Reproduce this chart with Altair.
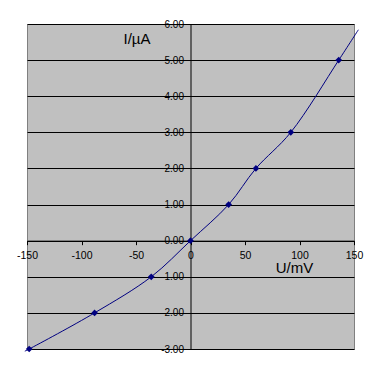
import altair as alt
import pandas as pd

# measured points (markers)
u_mv = [-148, -88, -36, 0, 35, 60, 92, 136]
i_ua = [-3, -2, -1, 0, 1, 2, 3, 5]
# smoothed line runs slightly past the last markers
line_u = [-152] + u_mv + [154]
line_i = [-3.06] + i_ua + [5.84]

y_ticks = [-3, -2, -1, 0, 1, 2, 3, 4, 5, 6]
x_ticks = [-150, -100, -50, 0, 50, 100, 150]

pts = pd.DataFrame({"U": u_mv, "I": i_ua})
ln = pd.DataFrame({"U": line_u, "I": line_i, "o": list(range(len(line_u)))})

FONT = "Liberation Sans"
W, H = 327, 325
xs = alt.Scale(domain=[-150, 150], nice=False, zero=False)
ys = alt.Scale(domain=[-3, 6], nice=False, zero=False)

x_zero_px = W * 150 / 300  # pixel of U=0
y_zero_px = H * 3 / 9       # distance of I=0 from bottom

xaxis = alt.Axis(values=x_ticks, offset=-y_zero_px, grid=False, labelFlush=False,
                 labelOverlap=False, labelBound=False, domainColor="black",
                 tickColor="black", tickSize=4, labelPadding=6, labelFontSize=10.5,
                 labelFont=FONT, labelColor="black",
                 labelExpr="replace(format(datum.value, 'd'), '\u2212', '-')",
                 title="U/mV", titleFont=FONT, titleFontSize=15,
                 titleFontWeight="normal", titleColor="black", titleX=267, titleY=27,
                 titleAlign="center", titleBaseline="middle")
yaxis = alt.Axis(values=y_ticks, offset=-x_zero_px, grid=True,
                 gridColor="black", gridOpacity=1, labelFlush=False, labelOverlap=False,
                 labelBound=False, domainColor="black", tickColor="black", tickSize=3,
                 labelPadding=4, labelFontSize=10, labelFont=FONT, labelColor="black",
                 labelExpr="replace(format(datum.value, '.2f'), '\u2212', '-')",
                 title="I/µA", titleFont=FONT, titleFontSize=15, titleFontWeight="normal",
                 titleColor="black", titleAngle=0, titleX=-54, titleY=14,
                 titleAlign="center", titleBaseline="middle")

line = alt.Chart(ln).mark_line(color="#000080", strokeWidth=1, interpolate="catmull-rom",
                               clip=False).encode(
    x=alt.X("U:Q", scale=xs, axis=xaxis),
    y=alt.Y("I:Q", scale=ys, axis=yaxis),
    order="o:O",
)
marks = alt.Chart(pts).mark_point(shape="diamond", filled=True, color="#000080",
                                  size=45, opacity=1).encode(
    x=alt.X("U:Q", scale=xs, axis=xaxis),
    y=alt.Y("I:Q", scale=ys, axis=yaxis),
)

chart = (line + marks).properties(
    width=W, height=H,
    autosize=alt.AutoSizeParams(type="none"),
    padding={"left": 19, "top": 16, "right": 10, "bottom": 10},
    background="white",
).configure_view(fill="#C0C0C0", stroke="#808080", strokeWidth=1)

chart.save("out.html", embed_options={"renderer": "svg", "actions": False})
